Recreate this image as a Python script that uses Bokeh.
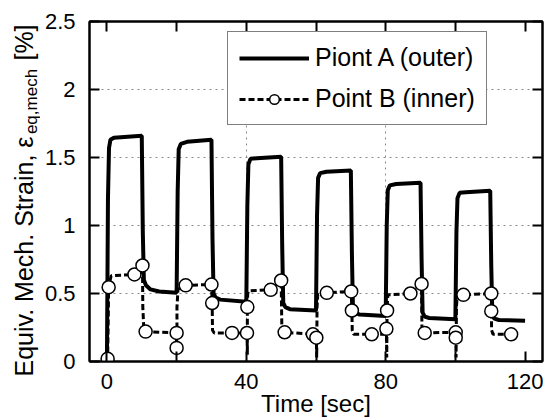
import math
from bokeh.plotting import figure
from bokeh.layouts import row
from bokeh.models import FixedTicker, LinearAxis, Range1d
from bokeh.core.properties import value
from bokeh.embed import file_html
from bokeh.resources import INLINE

# ---------------- data ----------------
# Point A (outer) - solid line
a_t = [0, 0.3, 0.6, 1.0, 2.0, 10.0, 10.3, 10.6, 11.2, 12.5, 15, 20.0,
       20.3, 20.6, 21.2, 23, 30.0, 30.3, 30.6, 31.2, 32.5, 40.0,
       40.3, 40.6, 41.2, 43, 50.0, 50.3, 50.6, 51.2, 52.5, 60.0,
       60.3, 60.6, 61.2, 63, 70.0, 70.3, 70.6, 71.2, 72.5, 80.0,
       80.3, 80.6, 81.2, 83, 90.0, 90.3, 90.6, 91.2, 92.5, 100.0,
       100.3, 100.6, 101.2, 103, 110.0, 110.3, 110.6, 111.2, 112.5, 120.0]
a_v = [0, 1.20, 1.57, 1.63, 1.645, 1.66, 0.95, 0.60, 0.56, 0.53, 0.515, 0.505,
       1.25, 1.56, 1.60, 1.615, 1.63, 0.90, 0.50, 0.47, 0.455, 0.44,
       1.15, 1.45, 1.49, 1.495, 1.505, 0.85, 0.43, 0.40, 0.385, 0.375,
       1.08, 1.35, 1.385, 1.395, 1.405, 0.80, 0.39, 0.36, 0.345, 0.335,
       1.00, 1.26, 1.295, 1.305, 1.315, 0.75, 0.36, 0.33, 0.32, 0.31,
       0.95, 1.20, 1.24, 1.245, 1.255, 0.70, 0.34, 0.315, 0.305, 0.30]

# Point B (inner) - dashed line
b_line_t = [0, 0.2, 0.5, 1.2, 7.9, 9.6, 10.2, 10.3, 10.6, 11.1,
            19.9, 20.0, 20.1, 20.1, 20.4, 22.6, 30.0, 30.2, 30.3, 30.8,
            35.9, 40.2, 40.3, 40.3, 40.4, 40.7, 47.0, 50.0, 50.2, 50.5,
            51.0, 59.1, 60.1, 60.2, 60.3, 60.5, 63.1, 70.1, 70.3, 70.4,
            70.8, 76.0, 80.0, 80.2, 80.3, 80.4, 80.6, 87.1, 90.3, 90.4,
            90.7, 91.2, 100.1, 100.1, 100.2, 100.3, 100.5, 102.3, 110.3, 110.3,
            110.4, 110.8, 116.0]
b_line_v = [0, 0.02, 0.546, 0.63, 0.64, 0.65, 0.706, 0.40, 0.23, 0.22,
            0.21, 0.10, 0.08, 0.40, 0.53, 0.56, 0.566, 0.43, 0.23, 0.21,
            0.21, 0.21, 0.05, 0.40, 0.50, 0.52, 0.527, 0.596, 0.25, 0.22,
            0.215, 0.20, 0.175, 0.03, 0.40, 0.49, 0.505, 0.515, 0.375, 0.23,
            0.20, 0.20, 0.20, 0.24, 0.03, 0.375, 0.49, 0.50, 0.57, 0.25,
            0.22, 0.21, 0.215, 0.175, 0.03, 0.40, 0.48, 0.49, 0.50, 0.37,
            0.23, 0.20, 0.20]

# Point B markers
b_mark_t = [0.2, 0.5, 7.9, 10.2, 11.1, 20.0, 20.0, 22.6, 30.0, 30.2, 35.9,
            40.2, 40.3, 47.0, 50.0, 51.0, 59.1, 60.1, 63.1, 70.1, 70.3, 76.0,
            80.2, 80.4, 87.1, 90.3, 91.2, 100.1, 100.1, 102.3, 110.3, 110.3, 116.0]
b_mark_v = [0.02, 0.546, 0.64, 0.706, 0.22, 0.21, 0.10, 0.56, 0.566, 0.43, 0.21,
            0.21, 0.40, 0.527, 0.596, 0.215, 0.20, 0.175, 0.505, 0.515, 0.375, 0.20,
            0.24, 0.375, 0.50, 0.57, 0.21, 0.215, 0.175, 0.49, 0.50, 0.37, 0.20]

x_ticks = [0, 40, 80, 120]
x_minor_ticks = [20, 60, 100]
x_grid = [40, 80]
y_ticks = [0, 0.5, 1, 1.5, 2, 2.5]
y_tick_labels = ["0", "0.5", "1", "1.5", "2", "2.5"]
y_grid = [0.5, 1, 1.5, 2]

series_a_name = "Piont A (outer)"
series_b_name = "Point B (inner)"
x_title = "Time [sec]"
y_title_main = "Equiv. Mech. Strain, ε"
y_title_sub = "eq,mech"
y_title_end = "[%]"

FONT = "Liberation Sans"

# ---------------- layout sizes ----------------
LAB_W = 40
FRAME_W, FRAME_H = 453, 340
TOP, BOTTOM = 21, 57
TOTAL_H = TOP + FRAME_H + BOTTOM

# ---------------- y-title strip (pixel coordinates, y from bottom) ----------------
ylab = figure(title=None, frame_width=LAB_W, frame_height=TOTAL_H,
              x_range=Range1d(0, LAB_W), y_range=Range1d(0, TOTAL_H),
              x_axis_location=None, y_axis_location=None,
              output_backend="svg", toolbar_location=None,
              min_border=0, min_border_left=0, min_border_right=0,
              min_border_top=0, min_border_bottom=0)
ylab.grid.visible = False
ylab.outline_line_color = None
ylab.background_fill_color = "white"
ylab.border_fill_color = "white"
ylab.text(x=[23], y=[TOTAL_H - 235], text=[y_title_main], angle=math.pi / 2,
          text_align="center", text_baseline="middle",
          text_font=value(FONT), text_font_size="25px", text_color="black")
ylab.text(x=[31], y=[TOTAL_H - 80], text=[y_title_sub], angle=math.pi / 2,
          text_align="center", text_baseline="middle",
          text_font=value(FONT), text_font_size="17px", text_color="black")
ylab.text(x=[23], y=[TOTAL_H - 21], text=[y_title_end], angle=math.pi / 2,
          text_align="center", text_baseline="middle",
          text_font=value(FONT), text_font_size="25px", text_color="black")

# ---------------- main figure ----------------
p = figure(title=None, frame_width=FRAME_W, frame_height=FRAME_H,
           x_range=Range1d(-5, 125), y_range=Range1d(0, 2.5),
           output_backend="svg", toolbar_location=None,
           min_border_left=89 - LAB_W, min_border_right=8,
           min_border_top=TOP, min_border_bottom=BOTTOM)
p.background_fill_color = "white"
p.border_fill_color = "white"
p.outline_line_color = "black"
p.outline_line_width = 2


def style_axis(ax, show_labels):
    ax.axis_line_color = "black"
    ax.axis_line_width = 2
    ax.major_tick_in = 10
    ax.major_tick_out = 0
    ax.major_tick_line_width = 2
    ax.major_tick_line_color = "black"
    ax.minor_tick_in = 10
    ax.minor_tick_out = 0
    ax.minor_tick_line_width = 2
    ax.minor_tick_line_color = "black"
    ax.major_label_text_font = FONT
    ax.major_label_text_color = "black"
    ax.major_label_text_line_height = 1.0
    if show_labels:
        ax.major_label_text_font_size = "22px"
    else:
        ax.major_label_text_font_size = "1px"
        ax.major_label_standoff = 0


xa = p.xaxis[0]
xa.ticker = FixedTicker(ticks=x_ticks, minor_ticks=x_minor_ticks)
style_axis(xa, True)
xa.major_label_standoff = 12
xa.axis_label = x_title
xa.axis_label_text_font = FONT
xa.axis_label_text_font_size = "24px"
xa.axis_label_text_font_style = "normal"
xa.axis_label_text_color = "black"
xa.axis_label_text_line_height = 1.0
xa.axis_label_standoff = -2

ya = p.yaxis[0]
ya.ticker = FixedTicker(ticks=y_ticks, minor_ticks=[])
style_axis(ya, True)
ya.major_label_standoff = 14
ya.major_label_overrides = {k: v for k, v in zip(y_ticks, y_tick_labels)}

top = LinearAxis(ticker=FixedTicker(ticks=x_ticks, minor_ticks=x_minor_ticks))
style_axis(top, False)
top.major_label_overrides = {k: "" for k in x_ticks}
p.add_layout(top, "above")

right = LinearAxis(ticker=FixedTicker(ticks=y_ticks, minor_ticks=[]))
style_axis(right, False)
right.major_label_overrides = {k: "" for k in y_ticks}
p.add_layout(right, "right")

p.xgrid.ticker = FixedTicker(ticks=x_grid)
p.ygrid.ticker = FixedTicker(ticks=y_grid)
for g in (p.xgrid, p.ygrid):
    g.grid_line_color = "#8a8a8a"
    g.grid_line_width = 1
    g.grid_line_dash = "2 4"

# ---------------- glyphs ----------------
p.line(a_t, a_v, line_color="black", line_width=4, legend_label=series_a_name)
p.line(b_line_t, b_line_v, line_color="black", line_width=3, line_dash="6 3",
       legend_label=series_b_name)
p.scatter(b_mark_t, b_mark_v, marker="circle", size=13, fill_color="white",
          line_color="black", line_width=1.5, legend_label=series_b_name)

# ---------------- legend ----------------
lg = p.legend[0]
lg.location = (138, 236)
lg.glyph_width = 70
lg.glyph_height = 24
lg.label_height = 24
lg.label_standoff = 6
lg.padding = 11
lg.spacing = 12
lg.margin = 0
lg.border_line_color = "black"
lg.border_line_width = 1
lg.background_fill_alpha = 1
lg.label_text_font = FONT
lg.label_text_font_size = "25px"
lg.label_text_color = "black"

layout = row(ylab, p)
open("out.html", "w").write(file_html(layout, INLINE))
